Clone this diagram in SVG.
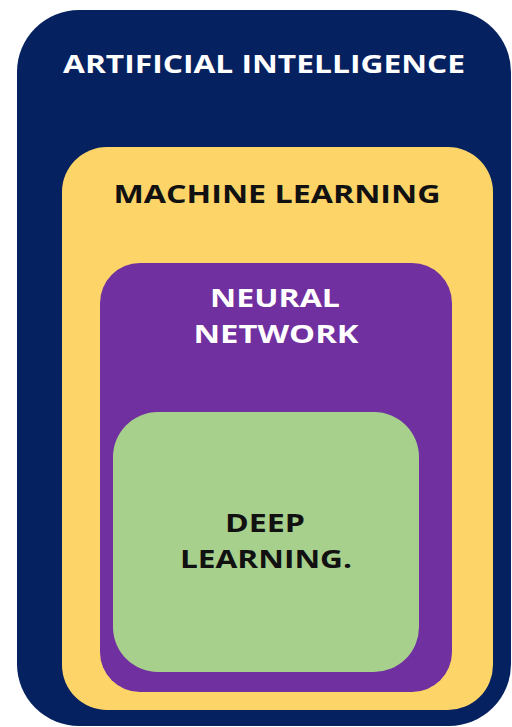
<svg xmlns="http://www.w3.org/2000/svg" width="512" height="727" viewBox="0 0 512 727">
<style>
.t{font-family:"Open Sans","Liberation Sans",sans-serif;font-weight:bold;font-size:25px;text-anchor:middle}
.w{fill:#ffffff}
.d{fill:#111111}
</style>
<rect width="512" height="727" fill="#ffffff"/>
<g id="ai">
<rect x="17" y="10" width="494" height="716" rx="62" fill="#06215f"/>
<text class="t w" x="264" y="73" textLength="402" lengthAdjust="spacingAndGlyphs">ARTIFICIAL INTELLIGENCE</text>
</g>
<g id="ml">
<rect x="62" y="147" width="431" height="563" rx="45" fill="#fdd467"/>
<text class="t d" x="277" y="203" textLength="327" lengthAdjust="spacingAndGlyphs">MACHINE LEARNING</text>
</g>
<g id="nn">
<rect x="100" y="263" width="352" height="429" rx="40" fill="#7030a0"/>
<text class="t w" x="275" y="307" textLength="130" lengthAdjust="spacingAndGlyphs">NEURAL</text>
<text class="t w" x="276" y="343" textLength="165" lengthAdjust="spacingAndGlyphs">NETWORK</text>
</g>
<g id="dl">
<rect x="113" y="412" width="306" height="260" rx="45" fill="#a8d08d"/>
<text class="t d" x="265" y="532" textLength="80" lengthAdjust="spacingAndGlyphs">DEEP</text>
<text class="t d" x="266" y="568" textLength="172" lengthAdjust="spacingAndGlyphs">LEARNING.</text>
</g>
<g id="connectors"/>
</svg>
